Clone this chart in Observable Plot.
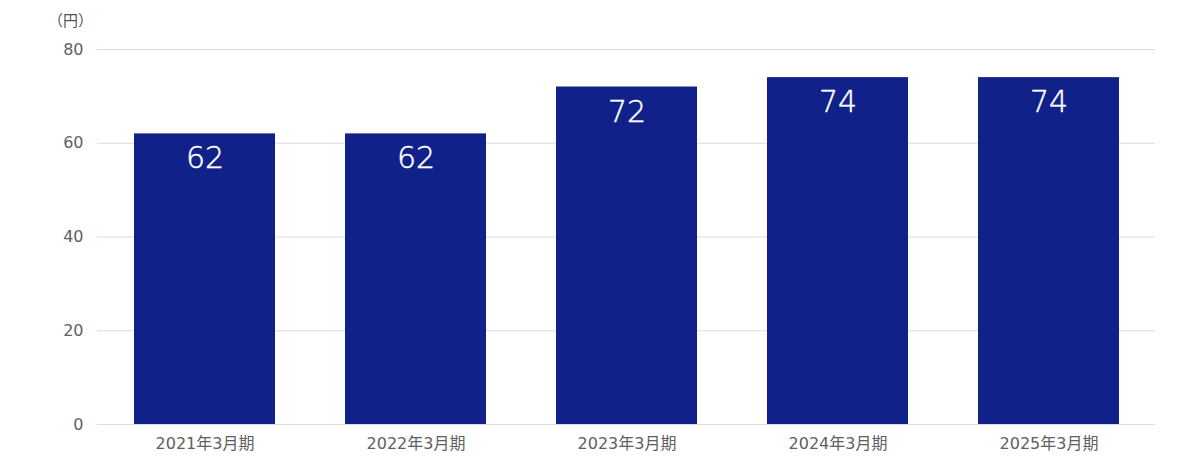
<!DOCTYPE html>
<html><head><meta charset="utf-8">
<script src="https://cdn.jsdelivr.net/npm/d3@7"></script>
<script src="https://cdn.jsdelivr.net/npm/@observablehq/plot@0.6"></script>
<style>
body{margin:0;background:#fff;}
svg{font-family:"DejaVu Sans","Noto Sans CJK JP",sans-serif;}
</style>
</head><body><div id="chart"></div>
<script>
const categories = ["2021年3月期","2022年3月期","2023年3月期","2024年3月期","2025年3月期"];
const values = [62, 62, 72, 74, 74];
const yTicks = [0, 20, 40, 60, 80];
const unitLabel = "（円）";
const data = categories.map((c, i) => ({cat: c, v: values[i]}));
const barColor = "#11218a";

const chart = Plot.plot({
  width: 1200, height: 468,
  marginLeft: 97, marginRight: 45, marginTop: 49, marginBottom: 44,
  style: {fontFamily: '"DejaVu Sans","Noto Sans CJK JP",sans-serif', background: "#fff"},
  x: {domain: categories, paddingInner: 0.333, paddingOuter: 0.1667, label: null},
  y: {domain: [0, 80], label: null},
  marks: [
    Plot.gridY(yTicks, {stroke: "#dcdcdc", strokeOpacity: 1, strokeWidth: 1}),
    Plot.axisY(yTicks, {tickSize: 0, tickPadding: 14, fontSize: 16, fill: "#606060", label: null, style: "letter-spacing:1px"}),
    Plot.axisX({tickSize: 0, tickPadding: 13, fontSize: 16, fill: "#606060", label: null, style: "letter-spacing:1px"}),
    Plot.barY(data, {x: "cat", y: "v", fill: barColor}),
    Plot.text(data, {x: "cat", y: "v", text: d => String(d.v), fill: "#fff", stroke: "#fff", strokeWidth: 0.45, fontSize: 30, fontWeight: 200, dy: 25, lineAnchor: "middle"}),
    Plot.text([unitLabel], {frameAnchor: "top-left", text: d => d, dx: -27, dy: -28, textAnchor: "middle", lineAnchor: "middle", fontSize: 15, fill: "#555"})
  ]
});
document.getElementById("chart").appendChild(chart);
</script></body></html>
